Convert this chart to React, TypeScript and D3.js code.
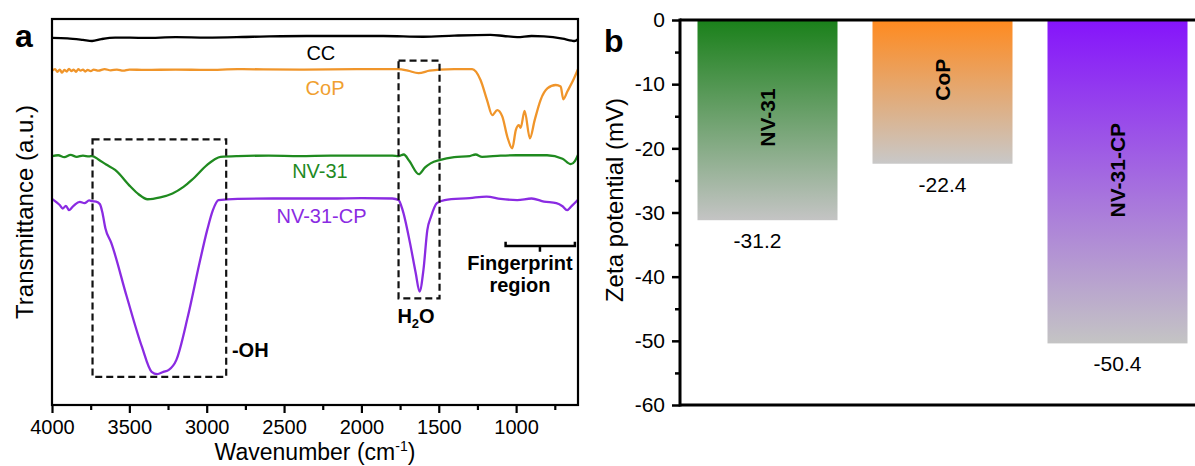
import * as d3 from 'd3';
import React, { useRef, useEffect } from 'react';

// FTIR spectra: [wavenumber (cm-1), transmittance (a.u.)]
const ccSpectrum = [
  [4000, 95.1], [3900, 95.0], [3800, 94.6], [3741, 94.3], [3680, 94.8], [3592, 95.2], [3400, 95.1],
  [3200, 95.3], [3000, 95.2], [2700, 95.4], [2355, 95.6], [2000, 95.6], [1859, 95.6], [1600, 95.4],
  [1400, 95.7], [1166, 95.9], [1080, 95.6], [993, 95.3], [900, 95.6], [820, 95.5], [700, 94.9],
  [640, 94.4], [622, 94.3], [600, 94.8],
];

const copSpectrum = [
  [4000, 86.6], [3980, 87.0], [3965, 86.3], [3950, 86.9], [3935, 86.1], [3920, 86.8], [3905, 86.4],
  [3890, 87.1], [3875, 86.5], [3860, 86.9], [3845, 86.3], [3830, 87.0], [3815, 86.6], [3800, 86.9],
  [3785, 86.4], [3770, 86.8], [3750, 86.5], [3730, 86.9], [3700, 86.6], [3660, 87.0], [3620, 86.7],
  [3580, 86.9], [3540, 86.6], [3500, 86.9], [3400, 86.8], [3200, 86.9], [3000, 86.8], [2800, 87.0],
  [2400, 86.9], [2000, 87.0], [1760, 87.0], [1700, 86.6], [1631, 86.0], [1560, 86.6], [1495, 86.9],
  [1400, 87.0], [1284, 87.0], [1230, 84.2], [1188, 79.0], [1154, 75.1], [1122, 76.4], [1089, 74.7],
  [1057, 69.5], [1025, 66.5], [1002, 71.2], [982, 72.5], [971, 71.8], [945, 76.2], [911, 69.1],
  [880, 73.8], [842, 79.0], [798, 82.0], [744, 82.9], [712, 82.5], [695, 79.2], [669, 81.2],
  [626, 84.6], [600, 87.0],
];

const nv31Spectrum = [
  [4000, 64.5], [3960, 64.7], [3920, 64.2], [3880, 64.8], [3840, 64.3], [3800, 64.6], [3760, 64.4],
  [3741, 64.5], [3700, 63.6], [3650, 62.3], [3592, 60.9], [3493, 56.6], [3440, 54.6], [3382, 53.3],
  [3300, 53.8], [3221, 54.8], [3150, 56.5], [3096, 58.3], [2997, 62.2], [2950, 63.6], [2911, 64.3],
  [2800, 64.5], [2600, 64.6], [2400, 64.5], [2200, 64.6], [2000, 64.6], [1800, 64.6], [1760, 64.5],
  [1726, 64.9], [1690, 63.2], [1629, 59.8], [1590, 61.5], [1553, 62.6], [1489, 63.5], [1400, 64.2],
  [1300, 64.5], [1262, 64.9], [1220, 64.3], [1100, 64.6], [1000, 64.7], [800, 64.7], [700, 63.8],
  [647, 62.4], [620, 63.2], [600, 64.8],
];

const nv31cpSpectrum = [
  [4000, 53.4], [3970, 52.5], [3950, 51.8], [3930, 50.9], [3910, 51.6], [3890, 50.5], [3870, 51.2],
  [3850, 52.0], [3820, 52.6], [3790, 52.3], [3760, 53.0], [3740, 52.8], [3715, 52.7], [3690, 52.0],
  [3675, 50.0], [3655, 45.8], [3617, 42.0], [3517, 28.1], [3419, 15.1], [3356, 8.6], [3320, 8.0],
  [3280, 8.6], [3245, 9.1], [3196, 11.7], [3122, 22.9], [3047, 36.7], [2997, 45.3], [2960, 50.5],
  [2924, 53.1], [2800, 53.4], [2500, 53.5], [2200, 53.5], [2000, 53.6], [1800, 53.5], [1760, 53.1],
  [1736, 50.8], [1686, 42.0], [1649, 34.2], [1624, 29.4], [1599, 35.0], [1574, 45.3], [1550, 48.8],
  [1512, 52.3], [1462, 53.1], [1300, 53.6], [1191, 54.0], [1100, 53.4], [993, 53.1], [900, 53.5],
  [820, 52.7], [740, 52.3], [700, 51.5], [671, 50.5], [640, 51.6], [600, 53.2],
];

const wavenumberTicks = [4000, 3500, 3000, 2500, 2000, 1500, 1000];
const wavenumberMinorTicks = [3750, 3250, 2750, 2250, 1750, 1250, 750];

// zeta potential
const samples = ['NV-31', 'CoP', 'NV-31-CP'];
const zetaValues = [-31.2, -22.4, -50.4];
const zetaTicks = [0, -10, -20, -30, -40, -50, -60];
const zetaMinorTicks = [-5, -15, -25, -35, -45, -55];

const FONT = '"Liberation Sans", Arial, sans-serif';

function App() {
  const ref = useRef<SVGSVGElement>(null);

  useEffect(() => {
    const svg = d3.select(ref.current);
    svg.selectAll('*').remove();
    svg.style('font-family', FONT);

    // ---------- panel a ----------
    const x = d3.scaleLinear().domain([4000, 600]).range([52, 578]);
    const y = d3.scaleLinear().domain([0, 100]).range([405, 19]);

    const line = d3.line<number[]>()
      .x(d => x(d[0]))
      .y(d => y(d[1]))
      .curve(d3.curveMonotoneX);

    const series = [
      { data: ccSpectrum, color: '#000000' },
      { data: copSpectrum, color: '#f0952a' },
      { data: nv31Spectrum, color: '#1f8a1f' },
      { data: nv31cpSpectrum, color: '#8a2be2' },
    ];

    const ga = svg.append('g');

    ga.selectAll('.spec')
      .data(series)
      .enter()
      .append('path')
      .attr('class', 'spec')
      .attr('fill', 'none')
      .attr('stroke', d => d.color)
      .attr('stroke-width', 2.3)
      .attr('stroke-linejoin', 'round')
      .attr('d', d => line(d.data.map(p => [p[0], p[1]])));

    // dashed boxes
    const boxes = [
      { w0: 3738, w1: 2874, t: 68.8, b: 7.3 },
      { w0: 1760, w1: 1495, t: 89.2, b: 27.6 },
    ];
    ga.selectAll('.box')
      .data(boxes)
      .enter()
      .append('rect')
      .attr('x', d => x(d.w0))
      .attr('y', d => y(d.t))
      .attr('width', d => x(d.w1) - x(d.w0))
      .attr('height', d => y(d.b) - y(d.t))
      .attr('fill', 'none')
      .attr('stroke', '#111')
      .attr('stroke-width', 2.2)
      .attr('stroke-dasharray', '7,4');

    // frame
    ga.append('rect')
      .attr('x', x.range()[0])
      .attr('y', y.range()[1])
      .attr('width', x.range()[1] - x.range()[0])
      .attr('height', y.range()[0] - y.range()[1])
      .attr('fill', 'none')
      .attr('stroke', '#000')
      .attr('stroke-width', 2.2);

    const xAxis = d3.axisBottom(x)
      .tickValues(wavenumberTicks)
      .tickSize(8)
      .tickPadding(7)
      .tickFormat(d => String(d));
    const xAxisG = ga.append('g')
      .attr('transform', `translate(0,${y.range()[0]})`)
      .call(xAxis);
    xAxisG.select('.domain').remove();
    xAxisG.selectAll('line').attr('stroke-width', 2.2);
    xAxisG.selectAll('text').style('font-size', '20px').style('font-family', FONT).attr('fill', '#000');

    const xMinor = ga.append('g')
      .attr('transform', `translate(0,${y.range()[0]})`)
      .call(d3.axisBottom(x).tickValues(wavenumberMinorTicks).tickSize(5).tickFormat(() => ''));
    xMinor.select('.domain').remove();
    xMinor.selectAll('line').attr('stroke-width', 2.2);

    const xTitle = ga.append('text')
      .attr('x', (x.range()[0] + x.range()[1]) / 2)
      .attr('y', 460)
      .attr('text-anchor', 'middle')
      .style('font-size', '23px');
    xTitle.append('tspan').text('Wavenumber (cm');
    xTitle.append('tspan').text('-1').attr('dy', -9).style('font-size', '14px');
    xTitle.append('tspan').text(')').attr('dy', 9);

    ga.append('text')
      .attr('transform', `translate(33,${(y.range()[0] + y.range()[1]) / 2}) rotate(-90)`)
      .attr('text-anchor', 'middle')
      .style('font-size', '24px')
      .text('Transmittance (a.u.)');

    // curve labels
    const curveLabels = [
      { text: 'CC', w: 2262, v: 89.4, color: '#000' },
      { text: 'CoP', w: 2235, v: 80.3, color: '#f0a030' },
      { text: 'NV-31', w: 2268, v: 58.8, color: '#1f8a1f' },
      { text: 'NV-31-CP', w: 2258, v: 47.2, color: '#8a2be2' },
    ];
    ga.selectAll('.clabel')
      .data(curveLabels)
      .enter()
      .append('text')
      .attr('x', d => x(d.w))
      .attr('y', d => y(d.v))
      .attr('text-anchor', 'middle')
      .attr('fill', d => d.color)
      .style('font-size', '20px')
      .text(d => d.text);

    ga.append('text')
      .attr('x', x(2837))
      .attr('y', y(12.4))
      .style('font-size', '20px')
      .style('font-weight', 'bold')
      .text('-OH');

    const h2o = ga.append('text')
      .attr('x', x(1647))
      .attr('y', y(21.2))
      .attr('text-anchor', 'middle')
      .style('font-size', '20px')
      .style('font-weight', 'bold');
    h2o.append('tspan').text('H');
    h2o.append('tspan').text('2').attr('dy', 5).style('font-size', '13px');
    h2o.append('tspan').text('O').attr('dy', -5);

    ga.append('text')
      .attr('x', x(975))
      .attr('y', y(35.0))
      .attr('text-anchor', 'middle')
      .style('font-size', '20px')
      .style('font-weight', 'bold')
      .text('Fingerprint');
    ga.append('text')
      .attr('x', x(975))
      .attr('y', y(29.4))
      .attr('text-anchor', 'middle')
      .style('font-size', '20px')
      .style('font-weight', 'bold')
      .text('region');

    const bracket = d3.path();
    bracket.moveTo(x(1068), y(42.3));
    bracket.lineTo(x(1068), y(41.2));
    bracket.lineTo(x(620), y(41.2));
    bracket.lineTo(x(620), y(42.3));
    bracket.moveTo(x(846), y(41.2));
    bracket.lineTo(x(846), y(39.7));
    ga.append('path')
      .attr('d', bracket.toString())
      .attr('fill', 'none')
      .attr('stroke', '#000')
      .attr('stroke-width', 2.5);

    ga.append('text')
      .attr('x', 15)
      .attr('y', 47)
      .style('font-size', '32px')
      .style('font-weight', 'bold')
      .text('a');

    // ---------- panel b ----------
    const yb = d3.scaleLinear().domain([-60, 0]).range([405, 20]);
    const xb = d3.scaleBand()
      .domain(samples)
      .range([680, 1205])
      .paddingInner(0.2)
      .paddingOuter(0.1);

    const gb = svg.append('g');
    const defs = svg.append('defs');
    const gradColors = [
      ['#1a801a', '#c4c4c4'],
      ['#ff8a1f', '#c8c8c8'],
      ['#8514fb', '#c4c4c4'],
    ];
    gradColors.forEach((c, i) => {
      const lg = defs.append('linearGradient')
        .attr('id', `barGrad${i}`)
        .attr('x1', 0).attr('y1', 0).attr('x2', 0).attr('y2', 1);
      lg.append('stop').attr('offset', '0%').attr('stop-color', c[0]);
      lg.append('stop').attr('offset', '100%').attr('stop-color', c[1]);
    });

    const bars = samples.map((s, i) => ({ name: s, value: zetaValues[i], i }));

    gb.selectAll('.bar')
      .data(bars)
      .enter()
      .append('rect')
      .attr('class', 'bar')
      .attr('x', d => xb(d.name) as number)
      .attr('y', yb(0))
      .attr('width', xb.bandwidth())
      .attr('height', d => yb(d.value) - yb(0))
      .attr('fill', d => `url(#barGrad${d.i})`);

    const nameY = [-15.2, -9.3, -23.4];
    gb.selectAll('.bname')
      .data(bars)
      .enter()
      .append('text')
      .attr('transform', d => `translate(${(xb(d.name) as number) + xb.bandwidth() / 2},${yb(nameY[d.i])}) rotate(-90)`)
      .attr('text-anchor', 'middle')
      .attr('dy', '0.36em')
      .style('font-size', '21px')
      .style('font-weight', 'bold')
      .text(d => d.name);

    gb.selectAll('.bval')
      .data(bars)
      .enter()
      .append('text')
      .attr('x', d => (xb(d.name) as number) + xb.bandwidth() / 2 - (d.i === 0 ? 10 : 0))
      .attr('y', d => yb(d.value) + 28)
      .attr('text-anchor', 'middle')
      .style('font-size', '21px')
      .text(d => d.value.toFixed(1));

    const yAxis = d3.axisLeft(yb)
      .tickValues(zetaTicks)
      .tickSize(8)
      .tickPadding(7)
      .tickFormat(d => String(d));
    const yAxisG = gb.append('g')
      .attr('transform', `translate(680,0)`)
      .call(yAxis);
    yAxisG.select('.domain').remove();
    yAxisG.selectAll('line').attr('stroke-width', 2.5);
    yAxisG.selectAll('text').style('font-size', '21px').style('font-family', FONT).attr('fill', '#000');

    const yMinor = gb.append('g')
      .attr('transform', `translate(680,0)`)
      .call(d3.axisLeft(yb).tickValues(zetaMinorTicks).tickSize(5).tickFormat(() => ''));
    yMinor.select('.domain').remove();
    yMinor.selectAll('line').attr('stroke-width', 2.5);

    gb.append('line')
      .attr('x1', 680).attr('x2', 680)
      .attr('y1', yb(0) - 1.5).attr('y2', yb(-60) + 1.5)
      .attr('stroke', '#000').attr('stroke-width', 3);
    [0, -60].forEach(v => {
      gb.append('line')
        .attr('x1', 680).attr('x2', 1195)
        .attr('y1', yb(v)).attr('y2', yb(v))
        .attr('stroke', '#000').attr('stroke-width', 3);
    });

    gb.append('text')
      .attr('transform', `translate(623,200) rotate(-90)`)
      .attr('text-anchor', 'middle')
      .style('font-size', '24px')
      .text('Zeta potential (mV)');

    gb.append('text')
      .attr('x', 604)
      .attr('y', 52)
      .style('font-size', '32px')
      .style('font-weight', 'bold')
      .text('b');
  }, []);

  return (
    <svg
      ref={ref}
      width={1195}
      height={466}
      style={{ position: 'absolute', left: 0, top: 0, background: '#fff' }}
    />
  );
}

export default App;
